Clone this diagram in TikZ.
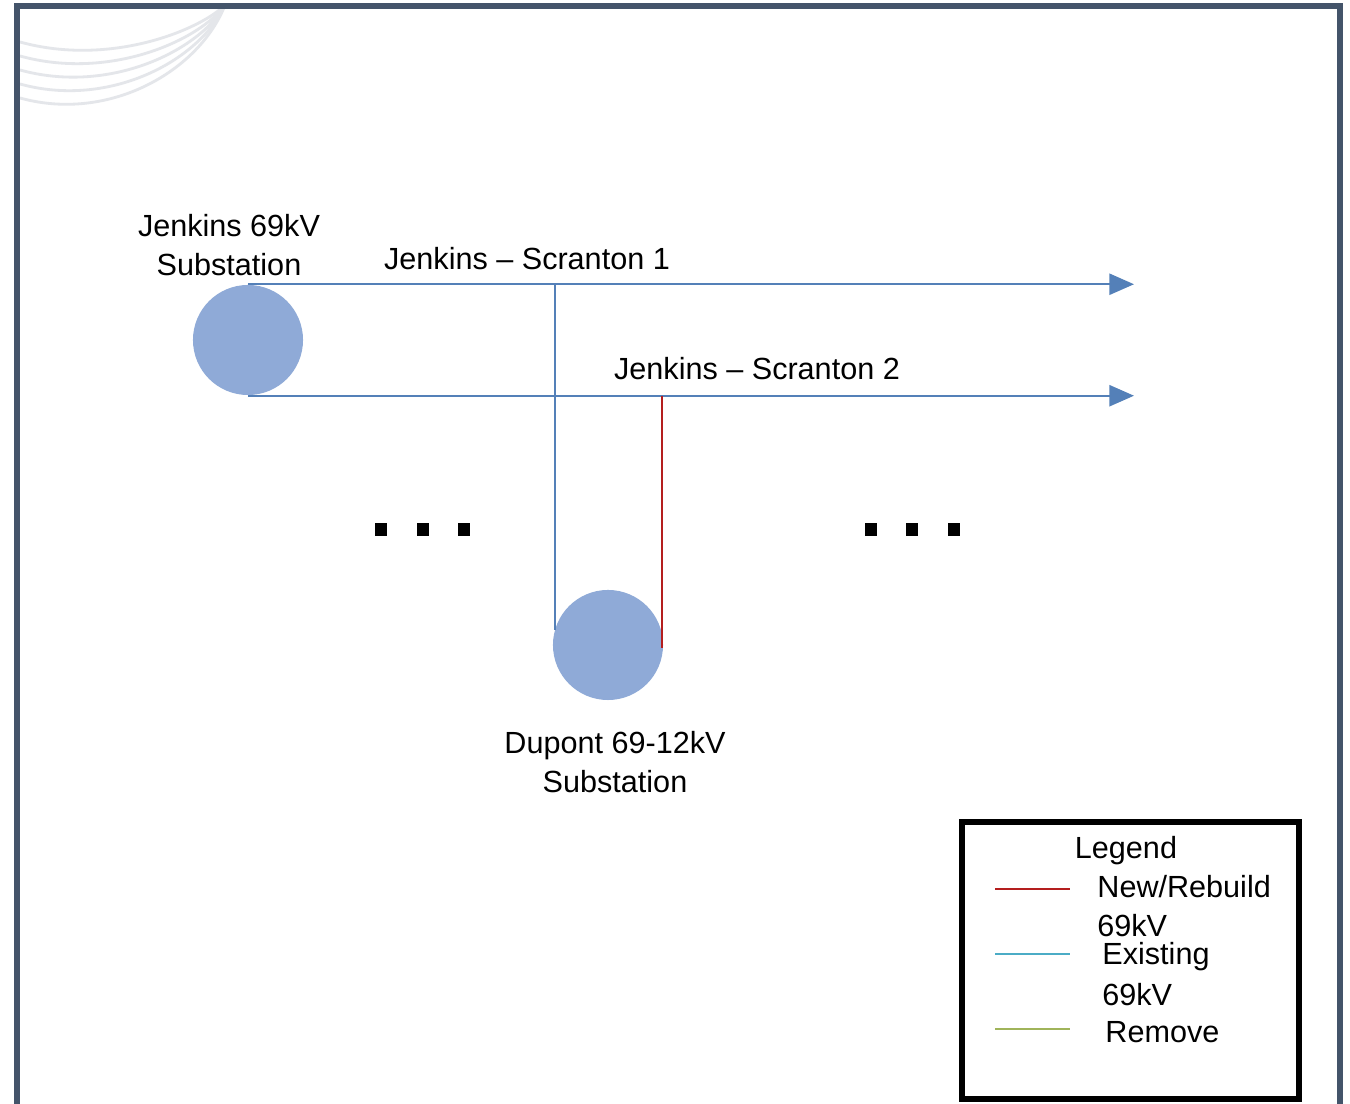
\documentclass[tikz,border=0pt]{standalone}
\usepackage{fontspec}
\setmainfont{Liberation Sans}
\usetikzlibrary{arrows.meta}
\definecolor{framecol}{RGB}{68,84,106}
\definecolor{subfill}{RGB}{143,170,215}
\definecolor{linecol}{RGB}{84,128,184}
\definecolor{newcol}{RGB}{180,30,30}
\definecolor{existcol}{RGB}{75,172,198}
\definecolor{removecol}{RGB}{160,180,90}
\definecolor{arccol}{RGB}{228,230,234}
\tikzset{
  sub/.style={circle, fill=subfill, minimum size=1.1cm, inner sep=0pt},
  feeder/.style={draw=linecol, line width=0.6pt},
  lbl/.style={font=\fontsize{8.7}{10.9}\selectfont, align=center},
  dotsq/.style={fill=black, minimum width=0.11cm, minimum height=0.13cm, inner sep=0pt}
}
\begin{document}
\begin{tikzpicture}[x=0.01cm, y=-0.01cm]
\useasboundingbox (0,0) rectangle (1350,1104);
\fill[white] (0,0) rectangle (1350,1104);
\foreach \r in {60,80,100,120,140}
  \draw[arccol, line width=0.8pt] (20,\r*0.7) .. controls (110,\r*0.7+25) and (200,\r*0.5) .. (225,5);
\draw[framecol, line width=1.9pt] (17,1110) -- (17,6) -- (1340,6) -- (1340,1110);
\node[sub] (jenkins) at (248,340) {};
\node[sub] (dupont) at (608,645) {};
\node[lbl] (jenkinslbl) at (229,245) {Jenkins 69kV\\Substation};
\node[lbl] (dupontlbl) at (615,762) {Dupont 69-12kV\\Substation};
\node[lbl] (js1lbl) at (527,259) {Jenkins -- Scranton 1};
\node[lbl] (js2lbl) at (757,369) {Jenkins -- Scranton 2};
\coordinate (end1) at (1134,284);
\coordinate (end2) at (1134,396);
\coordinate (tap1) at (555,284);
\coordinate (tap2) at (662,396);
\coordinate (dupw) at (555,630);
\coordinate (dupe) at (662,648);
\draw[feeder, -{Triangle[length=7pt, width=6pt]}] (jenkins.north) -- (jenkins.north -| end1);
\draw[feeder, -{Triangle[length=7pt, width=6pt]}] (jenkins.south) -- (jenkins.south -| end2);
\draw[feeder] (tap1) -- (dupw);
\draw[newcol, line width=0.6pt] (tap2) -- (dupe);
\foreach \x [count=\i] in {381,423,464} \node[dotsq] (dl\i) at (\x,530) {};
\foreach \x [count=\i] in {871,912,954} \node[dotsq] (dr\i) at (\x,530) {};
\draw[black, line width=1.6pt] (962,822) rectangle (1299,1099);
\node[lbl] (legend) at (1126,851) {Legend};
\draw[newcol, line width=0.5pt] (995,889) -- (1070,889);
\draw[existcol, line width=0.5pt] (995,954) -- (1070,954);
\draw[removecol, line width=0.5pt] (995,1029) -- (1070,1029);
\node[lbl, anchor=west] (newlbl) at (1085,887) {New/Rebuild};
\node[lbl, anchor=west] (newkv) at (1085,926) {69kV};
\node[lbl, anchor=west] (exlbl) at (1090,957) {Existing};
\node[lbl, anchor=west] (exkv) at (1090,995) {69kV};
\node[lbl, anchor=west] (remlbl) at (1093,1032) {Remove};
\end{tikzpicture}
\end{document}
